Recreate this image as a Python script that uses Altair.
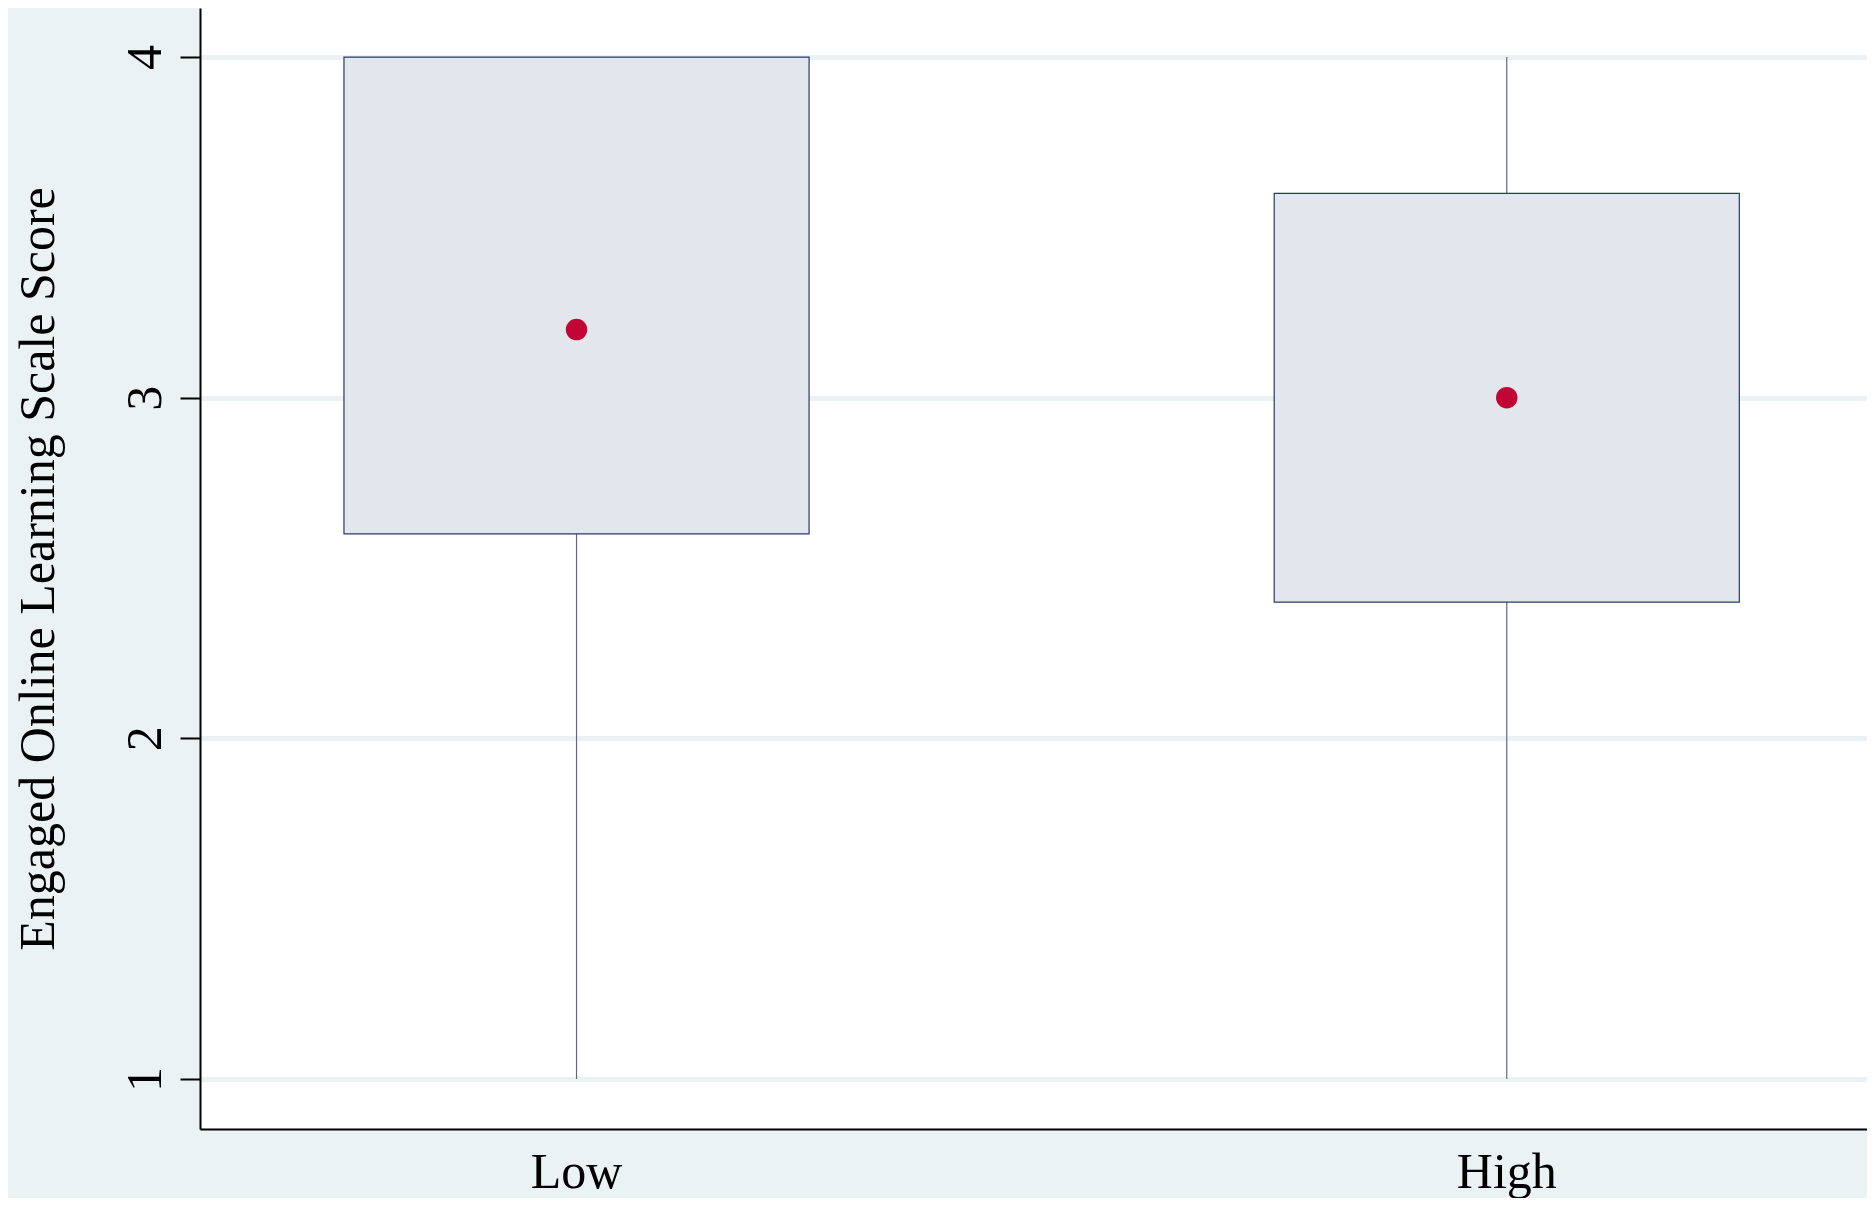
import altair as alt
import pandas as pd

groups = ["Low", "High"]
lower = [1.0, 1.0]
q1 = [2.6, 2.4]
median = [3.2, 3.0]
q3 = [4.0, 3.6]
upper = [4.0, 4.0]

df = pd.DataFrame({"group": groups, "lower": lower, "q1": q1,
                   "median": median, "q3": q3, "upper": upper})

FONT = "Liberation Serif"
BG = "#EAF2F3"

x_enc = alt.X("group:N", sort=groups,
              scale=alt.Scale(paddingInner=0.5, paddingOuter=0.146, align=0.53),
              axis=alt.Axis(title=None, ticks=False, labelAngle=0,
                            labelPadding=18, domainWidth=2, domainColor="black",
                            labelFontSize=50, labelFont=FONT, labelColor="black",
                            grid=False))
y_scale = alt.Scale(domain=[0.853, 4.144], nice=False, zero=False)

whisk = alt.Chart(df).mark_rule(color="#5B6A8C", strokeWidth=1.2).encode(
    x=x_enc,
    y=alt.Y("lower:Q", scale=y_scale,
            axis=alt.Axis(title="Engaged Online Learning Scale Score",
                          values=[1, 2, 3, 4], format="d",
                          labelAngle=270, labelFontSize=50, labelFont=FONT,
                          labelColor="black", labelPadding=10,
                          tickSize=20, tickWidth=2, tickColor="black",
                          domainWidth=2, domainColor="black",
                          gridColor=BG, gridWidth=5,
                          titleFont=FONT, titleFontSize=50, titleFontWeight="normal",
                          titleColor="black", titlePadding=57)),
    y2="upper:Q",
)

box = alt.Chart(df).mark_bar(fill="#E1E7EC", stroke="#2A3A66", strokeWidth=1.2).encode(
    x=x_enc,
    y=alt.Y("q1:Q", scale=y_scale),
    y2="q3:Q",
)

dot = alt.Chart(df).mark_circle(color="#C10534", opacity=1, size=460).encode(
    x=x_enc,
    y=alt.Y("median:Q", scale=y_scale),
)

chart = alt.layer(whisk, box, dot).properties(
    width=1667, height=1121,
    autosize=alt.AutoSizeParams(type="none"),
    padding={"left": 192, "top": 0, "right": 0, "bottom": 69},
    background=BG,
).configure_view(fill="white", stroke=None)

chart.save("out.html", embed_options={"renderer": "svg", "actions": False})
